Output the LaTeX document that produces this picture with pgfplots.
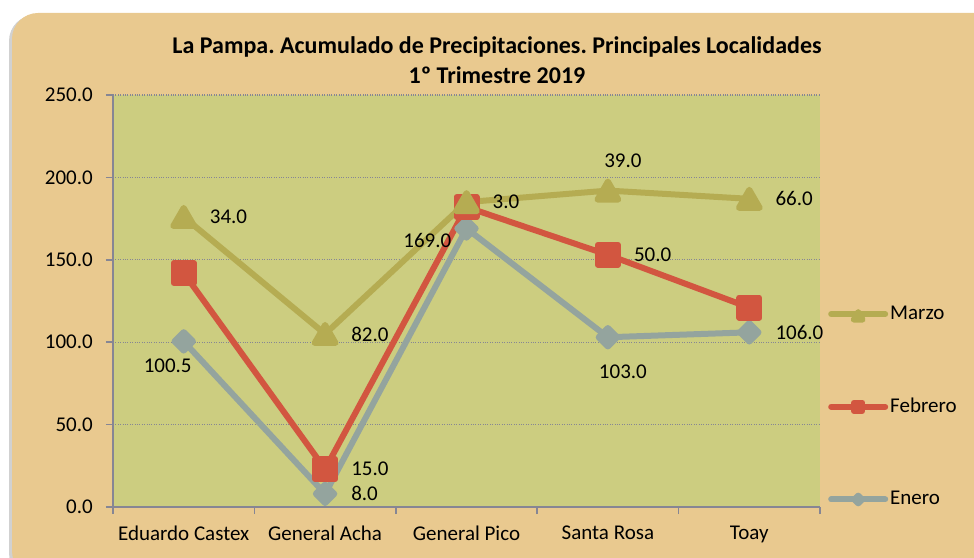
\documentclass[border=0pt]{standalone}
\usepackage{pgfplots}
\pgfplotsset{compat=1.18}
\usepackage{fontspec}
\setmainfont{Carlito}
\definecolor{outerbg}{RGB}{233,201,143}
\definecolor{plotbg}{RGB}{204,205,128}
\definecolor{marzo}{RGB}{181,172,82}
\definecolor{febrero}{RGB}{210,86,64}
\definecolor{enero}{RGB}{148,164,158}
\definecolor{axisgray}{RGB}{134,134,148}
\newcommand{\lblfont}{\fontsize{21}{25}\selectfont}
\begin{document}
\frenchspacing
\lblfont
\begin{tikzpicture}[x=1pt,y=1pt]
\useasboundingbox (0,0) rectangle (974,557);
\fill[black!18, rounded corners=26pt] (9,-22) rectangle (1000,542);
\fill[outerbg, rounded corners=26pt] (12,-20) rectangle (1000,544);
\node[font=\fontsize{24}{28}\selectfont\bfseries, inner sep=0pt] at (497,510) {La Pampa. Acumulado de Precipitaciones. Principales Localidades};
\node[font=\fontsize{24}{28}\selectfont\bfseries, inner sep=0pt] at (497,482) {1º Trimestre 2019};
\begin{axis}[
  at={(113pt,50pt)}, anchor=south west,
  width=707pt, height=412pt, scale only axis,
  xmin=-0.5, xmax=4.5, ymin=0, ymax=250,
  clip=false,
  axis background/.style={fill=plotbg},
  axis lines*=left,
  axis line style={draw=axisgray, line width=1.5pt},
  xtick={0,1,2,3,4},
  xticklabels={Eduardo Castex, General Acha, General Pico, Santa Rosa, Toay},
  major x tick style={draw=none},
  minor xtick={-0.5,0.5,1.5,2.5,3.5,4.5},
  tick align=outside,
  major tick length=7pt, minor tick length=7pt,
  tick style={draw=axisgray, line width=1.5pt},
  ytick={0,50,100,150,200,250},
  /pgf/number format/fixed, /pgf/number format/fixed zerofill,
  /pgf/number format/precision=1, /pgf/number format/assume math mode=true,
  ticklabel style={font=\lblfont},
  xticklabel style={yshift=-5pt},
  yticklabel style={xshift=-6pt},
  ymajorgrids,
  grid style={dotted, draw=axisgray, line width=1.3pt},
  reverse legend,
  legend style={at={(rel axis cs:1,0)}, anchor=south west, draw=none, fill=none,
    xshift=8pt, yshift=-3pt, row sep=71.5pt, font=\lblfont,
    inner sep=0pt},
  legend cell align=left,
  legend image code/.code={\draw[#1, line cap=round, mark repeat=2, mark phase=2, every mark/.append style={scale=0.42}] plot coordinates {(0pt,0pt) (27pt,0pt) (54pt,0pt)};},
  every axis plot/.append style={line width=6pt, line join=round},
]
\addplot[enero, mark=square*, mark size=6.5pt, mark options={rotate=45}] coordinates {(0,100.5) (1,8) (2,169) (3,103) (4,106)};
\addlegendentry{Enero}
\addplot[febrero, mark=square*, mark size=10pt] coordinates {(0,142) (1,23) (2,182) (3,153) (4,121)};
\addlegendentry{Febrero}
\addplot[marzo, mark=triangle*, mark size=12pt, mark options={yshift=-3pt}] coordinates {(0,176) (1,105) (2,185) (3,192) (4,187)};
\addlegendentry{Marzo}
\begin{scope}[every node/.style={inner sep=0pt, font=\lblfont}]
\node[anchor=west, xshift=26pt] at (axis cs:0,176) {34.0};
\node[anchor=west, xshift=26pt] at (axis cs:1,105) {82.0};
\node[anchor=west, xshift=26pt] at (axis cs:2,185) {3.0};
\node[xshift=15pt, yshift=30pt] at (axis cs:3,192) {39.0};
\node[anchor=west, xshift=26pt] at (axis cs:4,187) {66.0};
\node[anchor=west, xshift=26pt] at (axis cs:1,23) {15.0};
\node[anchor=west, xshift=26pt] at (axis cs:3,153) {50.0};
\node[xshift=-16pt, yshift=-24pt] at (axis cs:0,100.5) {100.5};
\node[anchor=west, xshift=26pt] at (axis cs:1,8) {8.0};
\node[anchor=east, xshift=-15pt, yshift=-12pt] at (axis cs:2,169) {169.0};
\node[xshift=15pt, yshift=-35pt] at (axis cs:3,103) {103.0};
\node[anchor=west, xshift=26pt] at (axis cs:4,106) {106.0};
\end{scope}
\end{axis}
\end{tikzpicture}
\end{document}
